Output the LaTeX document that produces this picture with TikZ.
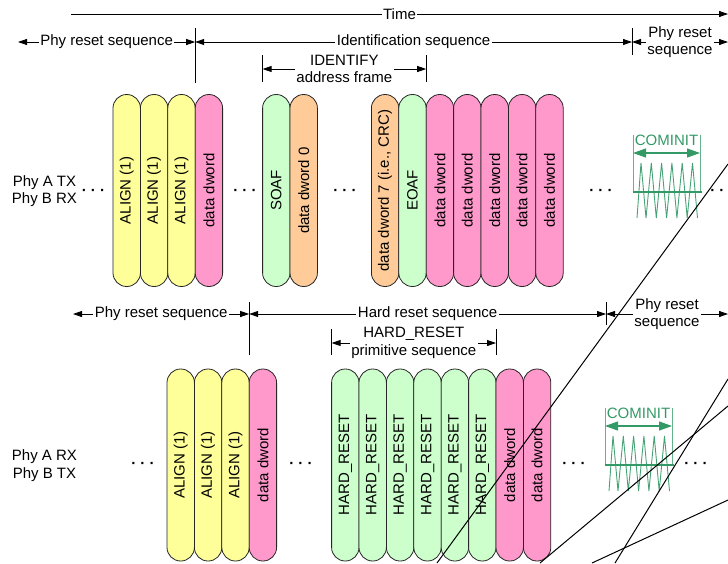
\documentclass[tikz,border=0pt]{standalone}
\usepackage{fontspec}
\setmainfont{Liberation Sans}
\usepackage{graphicx}
\usetikzlibrary{arrows.meta,positioning}
\definecolor{alignyel}{HTML}{FFFF99}
\definecolor{datapink}{HTML}{FF99CC}
\definecolor{primgreen}{HTML}{CCFFCC}
\definecolor{crcorange}{HTML}{FFCC99}
\definecolor{cigreen}{HTML}{339966}
\newcommand{\vtxt}[1]{\rotatebox{90}{#1}}

\begin{document}
\begin{tikzpicture}[
  x=1pt, y=-1pt, >={Triangle[length=9pt,width=6pt]},
  every node/.style={font=\fontsize{15}{17.5}\selectfont},
  dword/.style={draw=black!85, line width=0.8pt, fill=#1, rounded corners=13.6pt,
                minimum width=27.4pt, minimum height=192pt, inner sep=0pt, outer sep=0pt},
  dim/.style={<->, line width=0.8pt},
  tick/.style={line width=0.8pt},
  lbl/.style={fill=white, inner sep=1.5pt, align=center},
  dots/.style={inner sep=0pt, font=\fontsize{15}{17.5}\selectfont\bfseries},
  slash/.style={line width=1pt},
  node distance=0pt
]
  \useasboundingbox (0,0) rectangle (728,563);

  % Phy A TX / Phy B RX row
  \node[align=center] (phytx) at (44.5,191) {Phy A TX\\Phy B RX};
  \node[dword=alignyel, anchor=west] (a1) at (113,190.5) {\vtxt{ALIGN (1)}};
  \node[dword=alignyel, right=of a1] (a2) {\vtxt{ALIGN (1)}};
  \node[dword=alignyel, right=of a2] (a3) {\vtxt{ALIGN (1)}};
  \node[dword=datapink, right=of a3] (a4) {\vtxt{data dword}};
  \node[dword=primgreen, right=40pt of a4] (soaf) {\vtxt{SOAF}};
  \node[dword=crcorange, right=of soaf] (d0) {\vtxt{data dword 0}};
  \node[dword=crcorange, right=54pt of d0] (d7) {\vtxt{data dword 7 (i.e., CRC)}};
  \node[dword=primgreen, right=of d7] (eoaf) {\vtxt{EOAF}};
  \node[dword=datapink, right=of eoaf] (p1) {\vtxt{data dword}};
  \node[dword=datapink, right=of p1] (p2) {\vtxt{data dword}};
  \node[dword=datapink, right=of p2] (p3) {\vtxt{data dword}};
  \node[dword=datapink, right=of p3] (p4) {\vtxt{data dword}};
  \node[dword=datapink, right=of p4] (p5) {\vtxt{data dword}};

  \node[dots] (g1) at (93.5,192) {· · ·};
  \node[dots] (g2) at (245,192) {· · ·};
  \node[dots] (g3) at (345,192) {· · ·};
  \node[dots] (g4) at (601,192) {· · ·};
  \node[dots] (g5) at (722,192) {· · ·};

  % Phy A RX / Phy B TX row
  \node[align=center] (phyrx) at (44.5,465.5) {Phy A RX\\Phy B TX};
  \node[dword=alignyel, anchor=west] (b1) at (167,465) {\vtxt{ALIGN (1)}};
  \node[dword=alignyel, right=of b1] (b2) {\vtxt{ALIGN (1)}};
  \node[dword=alignyel, right=of b2] (b3) {\vtxt{ALIGN (1)}};
  \node[dword=datapink, right=of b3] (b4) {\vtxt{data dword}};
  \node[dword=primgreen, right=55pt of b4] (hr1) {\vtxt{HARD\_RESET}};
  \node[dword=primgreen, right=of hr1] (hr2) {\vtxt{HARD\_RESET}};
  \node[dword=primgreen, right=of hr2] (hr3) {\vtxt{HARD\_RESET}};
  \node[dword=primgreen, right=of hr3] (hr4) {\vtxt{HARD\_RESET}};
  \node[dword=primgreen, right=of hr4] (hr5) {\vtxt{HARD\_RESET}};
  \node[dword=primgreen, right=of hr5] (hr6) {\vtxt{HARD\_RESET}};
  \node[dword=datapink, right=of hr6] (q1) {\vtxt{data dword}};
  \node[dword=datapink, right=of q1] (q2) {\vtxt{data dword}};

  \node[dots] (k1) at (143,465) {· · ·};
  \node[dots] (k2) at (301,465) {· · ·};
  \node[dots] (k3) at (574,465) {· · ·};
  \node[dots] (k4) at (696,465) {· · ·};

  % time and sequence spans
  \coordinate (t0) at (71,14);
  \coordinate (t1) at (728,14);
  \draw[->, line width=0.8pt] (t0) -- node[lbl] {Time} (t1);

  \coordinate (r0) at (18,42);
  \coordinate (r1) at (a4.west |- r0);
  \coordinate (r2) at (632,42);
  \coordinate (r3) at (728,42);
  \draw[dim] (r0) -- node[lbl] {Phy reset sequence} (r1);
  \draw[dim] (r1) -- node[lbl] {Identification sequence} (r2);
  \draw[dim] (r2) -- node[lbl] {Phy reset\\sequence} (r3);
  \draw[tick] (a4.west |- 0,28) -- (a4.west |- 0,83);
  \draw[tick] (r2 |- 0,28) -- (r2 |- 0,55);

  \coordinate (i0) at (soaf.west |- 0,69);
  \coordinate (i1) at (eoaf.east |- 0,69);
  \draw[dim] (i0) -- node[lbl] {IDENTIFY\\address frame} (i1);
  \draw[tick] (soaf.west |- 0,55) -- (soaf.west |- 0,82);
  \draw[tick] (eoaf.east |- 0,55) -- (eoaf.east |- 0,82);

  \coordinate (h0) at (73,314);
  \coordinate (h1) at (b4.west |- h0);
  \coordinate (h2) at (606,314);
  \coordinate (h3) at (728,314);
  \draw[dim] (h0) -- node[lbl] {Phy reset sequence} (h1);
  \draw[dim] (h1) -- node[lbl] {Hard reset sequence} (h2);
  \draw[dim] (h2) -- node[lbl] {Phy reset\\sequence} (h3);
  \draw[tick] (b4.west |- 0,302) -- (b4.west |- 0,355);
  \draw[tick] (h2 |- 0,302) -- (h2 |- 0,325);

  \coordinate (e0) at (hr1.west |- 0,343);
  \coordinate (e1) at (hr6.east |- 0,343);
  \draw[dim] (e0) -- node[lbl] {HARD\_RESET\\primitive sequence} (e1);
  \draw[tick] (hr1.west |- 0,329) -- (hr1.west |- 0,355);
  \draw[tick] (hr6.east |- 0,329) -- (hr6.east |- 0,355);

  % COMINIT bursts
  \foreach \cx/\cy [count=\k] in {633/192, 605/465} {
    \begin{scope}[shift={(\cx,\cy)}]
      \coordinate (cl\k) at (0,-39);
      \coordinate (cr\k) at (67,-39);
      \draw[cigreen!75, line width=0.9pt] (0,-57) -- (0,0) (67,-57) -- (67,0);
      \node[text=cigreen] (ci\k) at (33.5,-52) {COMINIT};
      \draw[cigreen, line width=1.2pt,
            {Triangle[length=13pt,width=9pt]}-{Triangle[length=13pt,width=9pt]}] (cl\k) -- (cr\k);
      \draw[cigreen!90, line width=0.9pt] (4,26)
        \foreach \j in {0,...,5} { -- (8+10.3*\j,-29) -- (13+10.3*\j,26) };
      \draw[cigreen, line width=2.5pt] (0,0) -- (69,0);
    \end{scope}
  }

  % stray strokes
  \draw[slash] (728,164) -- (437,563);
  \draw[slash] (728,379) -- (615,563);
  \draw[slash] (728,406) -- (540,563);
  \draw[slash] (728,500) -- (592,563);
\end{tikzpicture}
\end{document}
